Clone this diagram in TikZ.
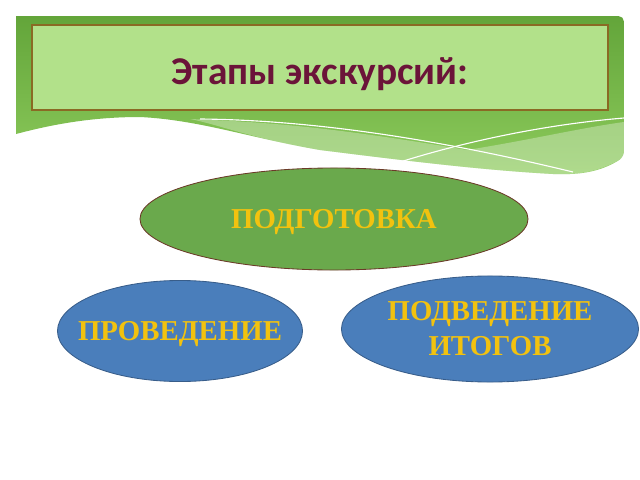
\documentclass[tikz,border=0pt]{standalone}
\usepackage{fontspec}
\newfontfamily\titlefont{Carlito}
\newfontfamily\stagefont{Liberation Serif}
\usetikzlibrary{shapes.geometric}
\definecolor{bandtop}{HTML}{63A53A}
\definecolor{bandbot}{HTML}{8DCB5C}
\definecolor{boxfill}{HTML}{B2E18A}
\definecolor{boxline}{HTML}{8A6A24}
\definecolor{titlecol}{HTML}{6B1439}
\definecolor{stagegreen}{HTML}{6AA94C}
\definecolor{stagebrown}{HTML}{6B3A28}
\definecolor{stageblue}{HTML}{4A7EBB}
\definecolor{stageedge}{HTML}{385D8A}
\definecolor{gold}{HTML}{F2C20F}
\tikzset{stage/.style={ellipse, draw, line width=0.6pt, inner ysep=0pt, inner xsep=-15pt, align=center,
  font=\stagefont\bfseries\fontsize{20.5}{25}\selectfont, text=gold}}
\begin{document}
\begin{tikzpicture}[x=0.025cm,y=-0.025cm]
\useasboundingbox (0,0) rectangle (640,480);
\fill[white] (0,0) rectangle (640,480);
\shade[top color=bandtop, bottom color=bandbot, rounded corners=4] (16,16) -- (624,16) -- (624,157)
  [sharp corners] .. controls (600,172) and (580,175) .. (553,174)
  .. controls (480,170) and (400,160) .. (320,150)
  .. controls (250,138) and (200,120) .. (140,117)
  .. controls (90,117) and (50,125) .. (16,134) -- cycle;
\fill[white, fill opacity=0.3] (190,119) .. controls (260,122) and (320,125) .. (467,150)
  .. controls (530,140) and (580,128) .. (624,122) -- (624,157)
  .. controls (600,172) and (580,175) .. (553,174)
  .. controls (480,170) and (400,160) .. (320,150)
  .. controls (250,138) and (220,125) .. (190,119);
\draw[white, line width=0.8pt] (200,119) .. controls (300,120) and (420,135) .. (573,172);
\draw[white, line width=0.8pt] (397,163) .. controls (460,143) and (540,125) .. (624,118);
\draw[boxline, fill=boxfill, line width=0.8pt] (32,25) rectangle (608,110);
\node[text=titlecol, font=\titlefont\bfseries\fontsize{28}{32}\selectfont, anchor=base] (title) at (320,84) {Этапы экскурсий:};
\node[stage, fill=stagegreen, draw=stagebrown, text depth=0pt, minimum width=9.7cm, minimum height=2.55cm] (podg) at (334,219) {ПОДГОТОВКА};
\node[stage, fill=stageblue, draw=stageedge, text depth=0pt, minimum width=6.125cm, minimum height=2.525cm] (prov) at (180,331) {ПРОВЕДЕНИЕ};
\node[stage, fill=stageblue, draw=stageedge, minimum width=7.425cm, minimum height=2.65cm] (itog) at (490,329) {ПОДВЕДЕНИЕ\\ИТОГОВ};
\end{tikzpicture}
\end{document}
